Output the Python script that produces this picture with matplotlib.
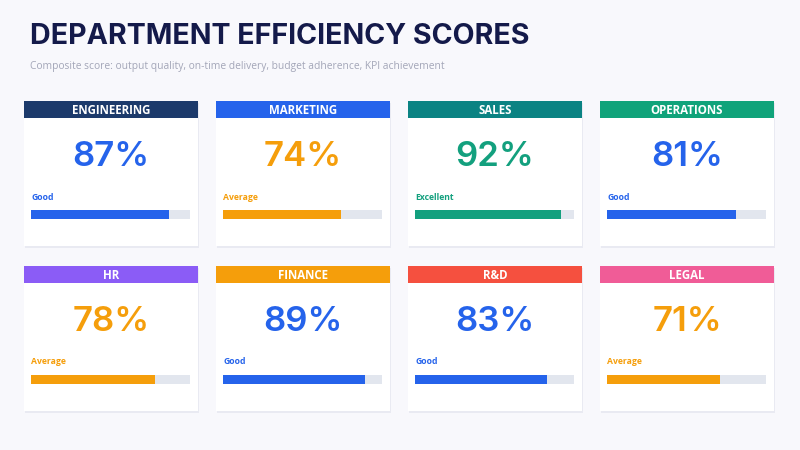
import matplotlib
matplotlib.use("Agg")
import matplotlib.pyplot as plt
from matplotlib.patches import Rectangle

# data
departments = ["ENGINEERING", "MARKETING", "SALES", "OPERATIONS",
               "HR", "FINANCE", "R&D", "LEGAL"]
scores = [87, 74, 92, 81, 78, 89, 83, 71]
ratings = ["Good", "Average", "Excellent", "Good",
           "Average", "Good", "Good", "Average"]
header_colors = ["#1c3a6b", "#2563eb", "#0b8383", "#10a37a",
                 "#8b5cf6", "#f59e0b", "#f5503f", "#f05c97"]

rating_colors = {"Good": "#2563eb", "Average": "#f59e0b", "Excellent": "#13a07e"}

plt.rcParams['font.family'] = ['Inter', 'DejaVu Sans']

fig = plt.figure(figsize=(8, 4.5), dpi=100)
fig.patch.set_facecolor("#f8f8fc")
ax = fig.add_axes([0, 0, 1, 1])
ax.set_xlim(0, 800)
ax.set_ylim(450, 0)
ax.axis("off")

ax.text(30, 36, "DEPARTMENT EFFICIENCY SCORES", fontsize=20.6, fontweight="bold",
        color="#141a4a", va="center", ha="left")
ax.text(30, 66, "Composite score: output quality, on-time delivery, budget adherence, KPI achievement",
        fontsize=7.4, color="#a3a6b8", va="center", ha="left", family=["Open Sans", "DejaVu Sans"])

card_w, card_h = 174, 145
head_h = 17
x0s = [24, 216, 408, 600]
y0s = [101, 266]

for i, (name, score, rating, hc) in enumerate(zip(departments, scores, ratings, header_colors)):
    x0 = x0s[i % 4]
    y0 = y0s[i // 4]
    col = rating_colors[rating]
    # shadow + card
    ax.add_patch(Rectangle((x0 + 1, y0 + 2), card_w, card_h, facecolor="#e9eaf2",
                           edgecolor="none", zorder=1))
    ax.add_patch(Rectangle((x0, y0), card_w, card_h, facecolor="white",
                           edgecolor="none", zorder=2))
    ax.add_patch(Rectangle((x0, y0), card_w, head_h, facecolor=hc,
                           edgecolor="none", zorder=3))
    ax.text(x0 + card_w / 2, y0 + head_h / 2 + 1, name, fontsize=8.3, fontweight="bold",
            color="white", ha="center", va="center", zorder=4,
            family=["Open Sans", "DejaVu Sans"])
    ax.text(x0 + card_w / 2, y0 + 56, f"{score}%", fontsize=25, fontweight="semibold",
            color=col, ha="center", va="center", zorder=4)
    ax.text(x0 + 7, y0 + 96, rating, fontsize=6.2, fontweight="bold",
            color=col, ha="left", va="center", zorder=4,
            family=["Open Sans", "DejaVu Sans"])
    # progress bar
    bx, bw = x0 + 7, 159
    ax.barh(y0 + 113, bw, left=bx, height=9, color="#e2e6ee", zorder=3)
    ax.barh(y0 + 113, bw * score / 100, left=bx, height=9, color=col, zorder=4)

fig.savefig("out.png", dpi=100, facecolor=fig.get_facecolor())
